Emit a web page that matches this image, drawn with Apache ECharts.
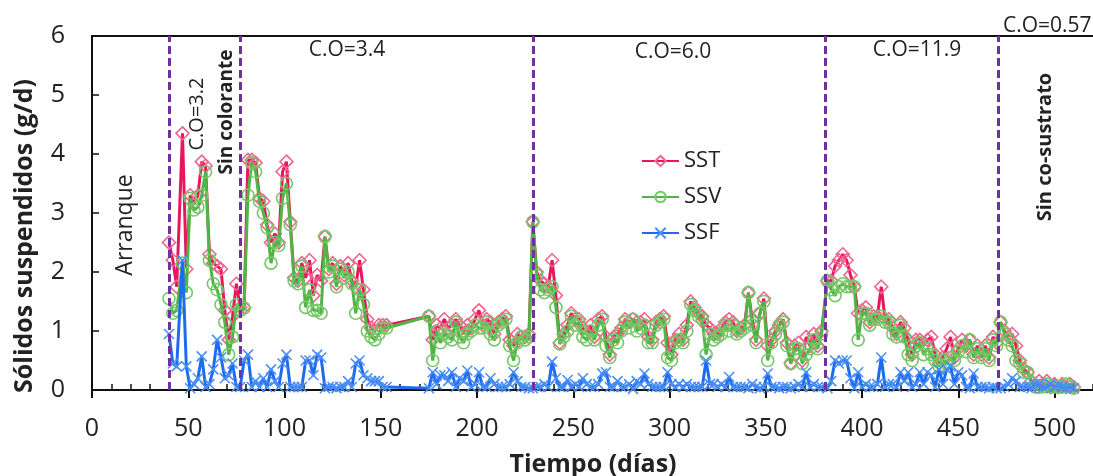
<!DOCTYPE html>
<html>
<head>
<meta charset="utf-8">
<script src="https://cdn.jsdelivr.net/npm/echarts@6/dist/echarts.min.js"></script>
<style>
  html, body { margin: 0; padding: 0; background: #fff; }
  #chart { width: 1093px; height: 476px; }
</style>
</head>
<body>
<div id="chart"></div>
<script>
// Operating day of each measurement
const days = [
  40, 42, 44, 47, 49, 51, 53, 55, 57, 59, 61, 63, 65, 67, 69, 71, 73, 75,
  77, 79, 81, 83, 85, 87, 89, 91, 93, 95, 97, 99, 101, 103, 105, 107, 109, 111, 113, 115, 117, 119,
  121, 123, 125, 127, 129, 131, 133, 135, 137, 139, 141, 143, 145, 147, 149, 151, 153,
  175, 177, 179, 181, 183, 185, 187, 189, 191, 193, 195, 197, 199, 201, 203, 205, 207, 209, 211, 213,
  215, 217, 219, 221, 223, 225, 227,
  229, 231, 233, 235, 237, 239, 241, 243, 245, 247, 249, 251, 253, 255, 257, 259, 261, 263, 265, 267,
  269, 271, 273, 275, 277, 279, 281, 283, 285, 287, 289, 291, 293, 295, 297, 299, 301, 303, 305, 307,
  309, 311, 313, 315, 317, 319, 321, 323, 325, 327, 329, 331, 333, 335, 337, 339, 341, 343, 345, 347,
  349, 351, 353, 355, 357, 359, 361, 363, 365, 367, 369, 371, 373, 375, 377, 379,
  382, 384, 386, 388, 390, 392, 394, 396, 398, 400, 402, 404, 406, 408, 410, 412, 414, 416, 418, 420,
  422, 424, 426, 428, 430, 432, 434, 436, 438, 440, 442, 444, 446, 448, 450, 452, 454, 456, 458, 460,
  462, 464, 466, 468, 470, 472,
  474, 476, 478, 480, 482, 484, 486, 488, 490, 492, 494, 496, 498, 500, 502, 504, 506, 508, 510
];

// Total suspended solids (g/d)
const sst = [
  2.50, 2.20, 1.75, 4.35, 2.05, 3.30, 3.15, 3.30, 3.87, 3.80, 2.30, 2.15, 2.10, 2.05, 1.35, 0.85, 1.25, 1.80,
  1.40, 1.40, 3.90, 3.90, 3.85, 3.25, 3.20, 2.80, 2.50, 2.65, 2.50, 3.70, 3.87, 2.85, 1.90, 1.85, 2.15, 1.90, 2.20, 1.60, 1.95, 1.85,
  2.60, 2.05, 2.15, 1.80, 2.10, 1.95, 2.15, 1.85, 1.75, 2.20, 1.70, 1.20, 1.05, 1.00, 1.10, 1.10, 1.10,
  1.25, 0.85, 1.10, 1.05, 1.20, 1.05, 1.10, 1.20, 1.10, 0.95, 1.10, 1.05, 1.20, 1.35, 1.10, 1.20, 1.15, 0.95, 1.15, 1.20,
  1.25, 0.85, 0.75, 0.95, 0.90, 0.90, 0.95,
  2.85, 2.00, 1.85, 1.80, 1.75, 2.20, 1.60, 0.80, 0.95, 1.10, 1.30, 1.20, 1.20, 1.05, 0.95, 1.10, 0.90, 1.20, 1.25, 0.90,
  0.60, 0.90, 0.95, 1.05, 1.20, 1.15, 1.20, 1.15, 1.15, 1.20, 0.90, 0.85, 1.15, 1.20, 1.25, 0.80, 0.60, 0.85, 0.95, 0.85,
  1.10, 1.50, 1.40, 1.30, 1.25, 1.10, 1.05, 0.95, 0.95, 1.05, 1.15, 1.20, 1.15, 1.00, 1.05, 1.10, 1.65, 1.20, 0.85, 1.30,
  1.55, 0.75, 0.85, 1.00, 1.10, 1.20, 0.80, 0.45, 0.75, 0.80, 0.50, 0.90, 0.75, 0.95, 0.75, 1.00,
  1.85, 1.85, 2.10, 2.20, 2.30, 2.20, 1.95, 1.75, 1.30, 1.35, 1.40, 1.15, 1.25, 1.25, 1.75, 1.20, 1.20, 1.05, 0.95, 1.15,
  1.05, 0.85, 0.60, 0.85, 0.85, 0.75, 0.85, 0.90, 0.60, 0.45, 0.55, 0.70, 0.90, 0.55, 0.70, 0.85, 0.75, 0.85, 0.60, 0.75,
  0.60, 0.75, 0.55, 0.90, 0.80, 1.15,
  1.00, 0.90, 0.95, 0.75, 0.50, 0.35, 0.30, 0.15, 0.10, 0.15, 0.10, 0.15, 0.05, 0.10, 0.05, 0.10, 0.05, 0.10, 0.05
];

// Volatile suspended solids (g/d)
const ssv = [
  1.55, 1.30, 1.35, 2.15, 1.65, 3.25, 3.05, 3.10, 3.30, 3.70, 2.20, 1.80, 1.70, 1.45, 1.15, 0.60, 0.90, 1.45,
  1.35, 1.39, 3.30, 3.85, 3.70, 3.20, 3.00, 2.75, 2.15, 2.50, 2.45, 3.25, 3.50, 2.80, 1.85, 1.80, 2.10, 1.40, 1.70, 1.35, 1.35, 1.30,
  2.60, 2.00, 2.10, 1.75, 2.05, 1.90, 2.00, 1.80, 1.30, 1.70, 1.45, 1.00, 0.90, 0.85, 0.95, 1.05, 1.05,
  1.25, 0.50, 1.00, 0.80, 0.95, 0.90, 0.85, 1.15, 0.90, 0.80, 0.95, 1.00, 1.10, 1.05, 1.05, 1.15, 0.95, 0.85, 1.10, 1.15,
  1.20, 0.75, 0.50, 0.80, 0.90, 0.85, 0.90,
  2.85, 1.95, 1.70, 1.65, 1.70, 1.75, 1.40, 0.78, 0.90, 1.00, 1.25, 1.10, 1.15, 0.90, 0.85, 1.00, 0.85, 1.10, 1.20, 0.75,
  0.55, 0.85, 0.80, 1.00, 1.15, 1.05, 1.20, 1.00, 1.05, 1.10, 0.80, 0.80, 1.10, 1.15, 1.20, 0.55, 0.50, 0.80, 0.85, 0.80,
  1.00, 1.45, 1.35, 1.25, 1.20, 0.60, 0.95, 0.85, 0.90, 0.95, 1.10, 1.00, 1.10, 0.95, 1.00, 1.05, 1.65, 1.10, 0.80, 1.30,
  1.50, 0.50, 0.80, 0.95, 1.10, 1.15, 0.75, 0.45, 0.70, 0.70, 0.45, 0.60, 0.70, 0.85, 0.70, 0.95,
  1.85, 1.70, 1.60, 1.75, 1.80, 1.75, 1.75, 1.75, 0.85, 1.30, 1.30, 1.10, 1.20, 1.20, 1.25, 1.15, 1.15, 0.95, 0.90, 1.10,
  0.90, 0.60, 0.50, 0.75, 0.80, 0.60, 0.70, 0.60, 0.50, 0.40, 0.50, 0.45, 0.55, 0.50, 0.65, 0.75, 0.65, 0.85, 0.55, 0.70,
  0.55, 0.70, 0.50, 0.85, 0.75, 1.15,
  0.95, 0.85, 0.75, 0.50, 0.45, 0.30, 0.30, 0.12, 0.05, 0.05, 0.05, 0.10, 0.05, 0.05, 0.05, 0.05, 0.10, 0.05, 0.03
];

// Fixed suspended solids (g/d)
const ssf = [
  0.95, 0.45, 0.40, 2.20, 0.40, 0.03, 0.10, 0.20, 0.57, 0.05, 0.10, 0.35, 0.85, 0.55, 0.20, 0.25, 0.45, 0.05,
  0.05, 0.50, 0.60, 0.05, 0.15, 0.05, 0.20, 0.05, 0.35, 0.15, 0.05, 0.45, 0.60, 0.05, 0.05, 0.05, 0.05, 0.50, 0.50, 0.25, 0.60, 0.55,
  0.03, 0.05, 0.05, 0.03, 0.05, 0.05, 0.15, 0.05, 0.45, 0.50, 0.25, 0.20, 0.15, 0.15, 0.15, 0.05, 0.05,
  0.03, 0.30, 0.10, 0.25, 0.25, 0.15, 0.30, 0.05, 0.20, 0.15, 0.33, 0.05, 0.10, 0.30, 0.05, 0.05, 0.20, 0.10, 0.05, 0.05,
  0.05, 0.10, 0.30, 0.15, 0.05, 0.05, 0.03,
  0.03, 0.05, 0.05, 0.10, 0.05, 0.48, 0.20, 0.05, 0.05, 0.17, 0.05, 0.10, 0.05, 0.20, 0.10, 0.05, 0.05, 0.10, 0.28, 0.30,
  0.05, 0.05, 0.15, 0.05, 0.05, 0.10, 0.02, 0.15, 0.10, 0.28, 0.10, 0.05, 0.05, 0.05, 0.05, 0.30, 0.10, 0.05, 0.10, 0.05,
  0.10, 0.05, 0.05, 0.05, 0.05, 0.50, 0.10, 0.10, 0.05, 0.10, 0.05, 0.22, 0.05, 0.05, 0.05, 0.05, 0.03, 0.10, 0.05, 0.03,
  0.05, 0.28, 0.05, 0.05, 0.03, 0.05, 0.05, 0.03, 0.05, 0.10, 0.05, 0.30, 0.05, 0.10, 0.05, 0.05,
  0.03, 0.15, 0.50, 0.45, 0.50, 0.50, 0.20, 0.03, 0.30, 0.05, 0.10, 0.05, 0.05, 0.10, 0.55, 0.05, 0.10, 0.10, 0.05, 0.30,
  0.15, 0.30, 0.05, 0.10, 0.30, 0.10, 0.30, 0.25, 0.05, 0.35, 0.10, 0.35, 0.40, 0.10, 0.30, 0.25, 0.05, 0.03, 0.28, 0.05,
  0.05, 0.05, 0.03, 0.05, 0.03, 0.03,
  0.05, 0.10, 0.20, 0.15, 0.05, 0.05, 0.05, 0.03, 0.10, 0.10, 0.03, 0.05, 0.10, 0.05, 0.08, 0.05, 0.03, 0.05, 0.03
];

// Days where the operating phase changes
const phaseChanges = [40, 77, 229, 381, 471];

const FONT = 'Open Sans';
const INK = '#222';

const chart = echarts.init(document.getElementById('chart'), null, { renderer: 'canvas' });

function pairs(values) {
  return days.map((d, i) => [d, values[i]]);
}

function label(text, x, y, opts) {
  opts = opts || {};
  return {
    type: 'text',
    x: x, y: y,
    rotation: opts.rot ? Math.PI / 2 : 0,
    silent: true,
    z: 100,
    style: {
      text: text,
      fill: INK,
      fontFamily: FONT,
      fontSize: opts.size || 21,
      fontWeight: opts.bold ? 'bold' : 'normal',
      align: opts.align || 'center',
      verticalAlign: 'middle'
    }
  };
}

const option = {
  animation: false,
  backgroundColor: '#fff',
  grid: { left: 92, right: 0, top: 36, bottom: 86, containLabel: false },
  legend: {
    data: ['SST', 'SSV', 'SSF'],
    orient: 'vertical',
    left: 636,
    top: 145,
    itemWidth: 37,
    itemHeight: 13,
    itemGap: 14,
    textStyle: { fontFamily: FONT, fontSize: 22, color: INK }
  },
  xAxis: [
    {
      type: 'value', min: 0, max: 520, interval: 50,
      axisLine: { show: true, lineStyle: { color: '#111', width: 2 } },
      axisTick: { show: true, inside: false, length: 8, lineStyle: { color: '#111', width: 2 } },
      axisLabel: { fontFamily: FONT, fontSize: 25, color: INK, margin: 26, showMaxLabel: false },
      splitLine: { show: false }
    },
    {
      type: 'value', min: 0, max: 520, interval: 10, position: 'bottom',
      axisLine: { show: false },
      axisTick: { show: true, inside: true, length: 6, lineStyle: { color: '#111', width: 1.5 } },
      axisLabel: { show: false },
      splitLine: { show: false }
    },
    {
      type: 'value', min: 0, max: 520, position: 'top',
      axisLine: { show: true, lineStyle: { color: '#111', width: 2 } },
      axisTick: { show: false },
      axisLabel: { show: false },
      splitLine: { show: false }
    }
  ],
  yAxis: {
    type: 'value', min: 0, max: 6, interval: 1,
    axisLine: { show: true, lineStyle: { color: '#111', width: 2 } },
    axisTick: { show: true, inside: true, length: 7, lineStyle: { color: '#111', width: 1.5 } },
    axisLabel: { fontFamily: FONT, fontSize: 25, color: INK, margin: 27 },
    splitLine: { show: false }
  },
  series: [
    {
      name: 'SST', type: 'line', data: pairs(sst),
      symbol: 'diamond', symbolSize: 13,
      lineStyle: { color: '#E8175D', width: 3 },
      itemStyle: { color: 'rgba(255,255,255,0)', borderColor: '#EE6690', borderWidth: 1.6 },
      z: 2
    },
    {
      name: 'SSV', type: 'line', data: pairs(ssv),
      symbol: 'circle', symbolSize: 12,
      lineStyle: { color: '#4FB545', width: 3 },
      itemStyle: { color: 'rgba(255,255,255,0)', borderColor: '#74C866', borderWidth: 1.6 },
      z: 3
    },
    {
      name: 'SSF', type: 'line', data: pairs(ssf),
      symbol: 'path://M0,0L10,10M10,0L0,10', symbolSize: 10,
      lineStyle: { color: '#1F6BF0', width: 3 },
      itemStyle: { color: 'rgba(255,255,255,0)', borderColor: '#4A8FF5', borderWidth: 1.6 },
      z: 4
    },
    {
      name: 'phases', type: 'line', data: [], z: 5, silent: true,
      markLine: {
        silent: true,
        symbol: ['none', 'none'],
        label: { show: false },
        lineStyle: { color: '#7030A0', type: [8, 4], width: 3 },
        data: phaseChanges.map(d => ({ xAxis: d }))
      }
    }
  ],
  graphic: [
    label('Arranque', 125, 225, { rot: true, size: 23 }),
    label('C.O=3.2', 197, 114, { rot: true, size: 20 }),
    label('Sin colorante', 227, 112, { rot: true, size: 19, bold: true }),
    label('C.O=3.4', 347, 50),
    label('C.O=6.0', 673, 52),
    label('C.O=11.9', 917, 50),
    label('C.O=0.57', 1003, 26, { align: 'left' }),
    label('Sin co-sustrato', 1045, 147, { rot: true, size: 20, bold: true }),
    label('Sólidos suspendidos (g/d)', 25, 236, { rot: true, size: 25, bold: true }),
    label('Tiempo (días)', 593, 465, { size: 25, bold: true })
  ]
};

chart.setOption(option);
</script>
</body>
</html>
